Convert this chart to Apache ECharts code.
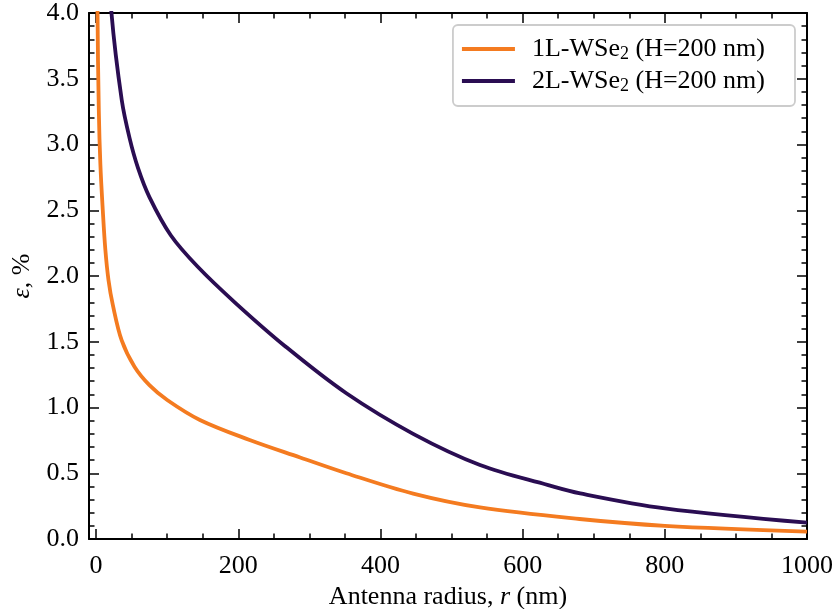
<!DOCTYPE html>
<html><head><meta charset="utf-8">
<script src="https://cdn.jsdelivr.net/npm/echarts@6/dist/echarts.min.js"></script>
<style>html,body{margin:0;padding:0;background:#fff}#c{width:835px;height:609px}</style>
</head><body><div id="c"></div>
<script>
// ---- data ----
const r1   = [1.2, 2.0, 3.8, 6.0, 9.4, 13, 17.4, 23.5, 36, 54, 75, 100, 146, 216, 287, 352, 446, 540, 680, 800, 1000];
const eps1 = [5.5, 4.0, 3.26, 2.85, 2.50, 2.20, 1.97, 1.78, 1.51, 1.31, 1.17, 1.057, 0.905, 0.753, 0.62, 0.50, 0.345, 0.24, 0.152, 0.10, 0.056];
const r2   = [16, 21.6, 36, 47, 59, 75, 105, 143, 195, 265, 352, 446, 540, 636, 681, 800, 1000];
const eps2 = [4.6, 4.0, 3.34, 3.05, 2.82, 2.60, 2.31, 2.07, 1.80, 1.47, 1.108, 0.80, 0.563, 0.41, 0.347, 0.233, 0.124];
const seriesNames = ['1L-WSe2 (H=200 nm)', '2L-WSe2 (H=200 nm)'];
const xMajorTicks = [0, 200, 400, 600, 800, 1000];
const xMinorTicks = [50, 100, 150, 250, 300, 350, 450, 500, 550, 650, 700, 750, 850, 900, 950];
const yTickStep = 0.5;

const FONT = 'Liberation Serif';
const FS = 26;
const C1 = '#f47b20';
const C2 = '#2a0d52';

function pairs(xs, ys) { return xs.map((x, i) => [x, ys[i]]); }

const xBase = {
  type: 'value', min: -10, max: 1000,
  splitLine: { show: false },
  axisLine: { show: false, onZero: false },
  axisLabel: { show: false },
  axisTick: { show: true, inside: true, length: 10, lineStyle: { color: '#000', width: 1.5 } }
};
function xAxisDef(pos, major, main) {
  const a = JSON.parse(JSON.stringify(xBase));
  a.position = pos;
  if (major) {
    a.axisTick.customValues = xMajorTicks;
    a.axisLine = { show: true, onZero: false, lineStyle: { color: '#000', width: 2 } };
  } else {
    a.axisTick.customValues = xMinorTicks;
    a.axisTick.length = 5.5;
  }
  if (main) {
    a.axisLabel = { show: true, customValues: xMajorTicks, margin: 14,
      fontFamily: FONT, fontSize: FS, color: '#000', formatter: v => String(v) };
    a.name = 'Antenna radius, {i|r} (nm)';
    a.nameLocation = 'middle';
    a.nameGap = 44;
    a.nameTextStyle = { fontFamily: FONT, fontSize: FS, color: '#000',
      rich: { i: { fontFamily: FONT, fontSize: FS, fontStyle: 'italic', color: '#000' } } };
  }
  return a;
}
function yAxisDef(pos, main) {
  const a = {
    type: 'value', min: 0, max: 4, interval: yTickStep, position: pos,
    splitLine: { show: false },
    axisLine: { show: true, onZero: false, lineStyle: { color: '#000', width: 2 } },
    axisTick: { show: true, inside: true, length: 10, lineStyle: { color: '#000', width: 1.5 } },
    minorTick: { show: true, splitNumber: 5, length: 5.5, lineStyle: { color: '#000', width: 1.5 } },
    minorSplitLine: { show: false },
    axisLabel: { show: main, margin: 10, fontFamily: FONT, fontSize: FS, color: '#000',
      formatter: v => v.toFixed(1) }
  };
  if (main) {
    a.name = '{i|ε}, %';
    a.nameLocation = 'middle';
    a.nameRotate = 90;
    a.nameGap = 53;
    a.nameTextStyle = { fontFamily: FONT, fontSize: FS, color: '#000',
      rich: { i: { fontFamily: FONT, fontSize: FS, fontStyle: 'italic', color: '#000' } } };
  }
  return a;
}

const chart = echarts.init(document.getElementById('c'), null, { renderer: 'canvas' });
chart.setOption({
  animation: false,
  backgroundColor: '#fff',
  grid: { left: 89, top: 13, width: 718, height: 526, containLabel: false, outerBoundsMode: 'none' },
  xAxis: [xAxisDef('bottom', true, true), xAxisDef('bottom', false, false),
          xAxisDef('top', true, false), xAxisDef('top', false, false)],
  yAxis: [yAxisDef('left', true), yAxisDef('right', false)],
  legend: {
    orient: 'vertical', right: 40, top: 25, align: 'left',
    backgroundColor: '#fff', borderColor: '#cccccc', borderWidth: 1.8, borderRadius: 5,
    padding: [10, 30, 11, 9], itemGap: 4,
    icon: 'rect', itemWidth: 53, itemHeight: 4,
    data: seriesNames,
    formatter: n => n.replace('WSe2', 'WSe{s|2}'),
    textStyle: { fontFamily: FONT, fontSize: FS, color: '#000', padding: [0, 0, 0, 12], lineHeight: 24,
      rich: { s: { fontFamily: FONT, fontSize: 18, color: '#000', lineHeight: 14, padding: [10, 0, 0, 0] } } }
  },
  series: [
    { name: seriesNames[0], type: 'line', xAxisIndex: 0, yAxisIndex: 0, data: pairs(r1, eps1),
      smooth: 0.35, showSymbol: false, symbol: 'none', clip: true,
      lineStyle: { color: C1, width: 3.8 }, itemStyle: { color: C1 } },
    { name: seriesNames[1], type: 'line', xAxisIndex: 0, yAxisIndex: 0, data: pairs(r2, eps2),
      smooth: 0.35, showSymbol: false, symbol: 'none', clip: true,
      lineStyle: { color: C2, width: 3.8 }, itemStyle: { color: C2 } }
  ]
});
</script></body></html>
